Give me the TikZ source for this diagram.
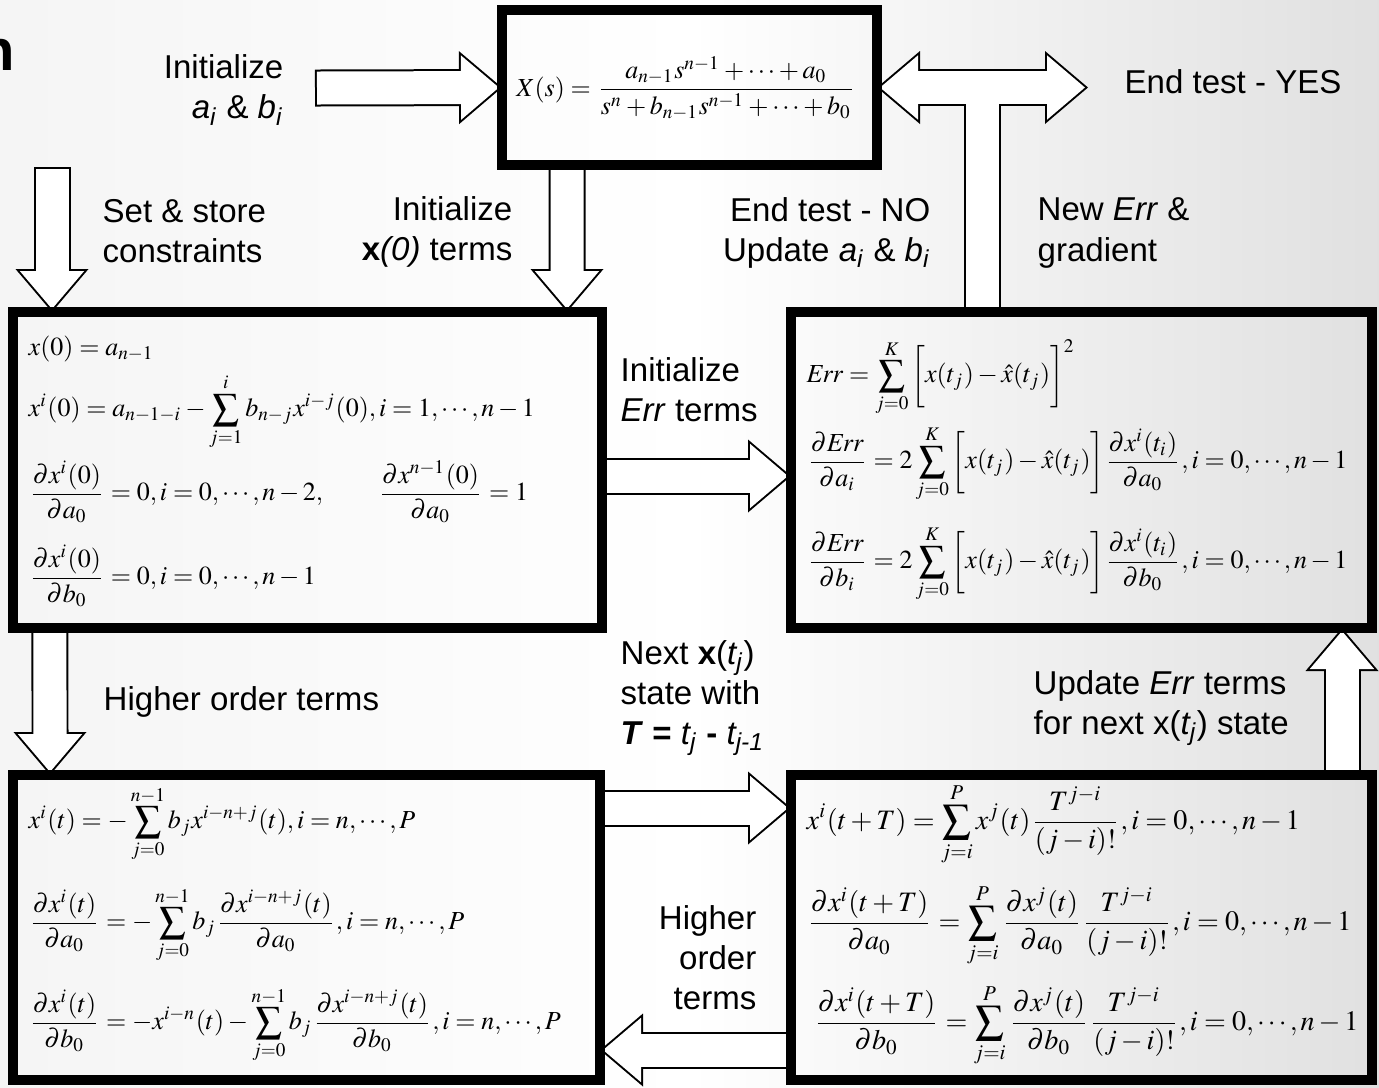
\documentclass[tikz,border=0pt]{standalone}
\usepackage{mathptmx}
\usepackage[no-math]{fontspec}
\newfontfamily\arialfont{Liberation Sans}
\usetikzlibrary{arrows.meta, calc}

\pgfdeclarelayer{back}
\pgfdeclarelayer{flow}
\pgfsetlayers{back,flow,main}

\tikzset{
    tipout/.tip={Triangle[length=0.43cm 0, width=0.73cm 0, line width=0pt 0]},
    tipin/.tip={Triangle[length=0.379cm 0, width=0.644cm 0, line width=0pt 0]}
}
\tikzstyle{box} = [
    rectangle,
    draw=black,
    line width=0.1cm,
    inner sep=0pt,
    outer sep=0pt
]
\tikzstyle{fatout} = [black, line width=0.37cm, -tipout]
\tikzstyle{fatin} = [white, line width=0.33cm, shorten <=0.02cm, shorten >=0.031cm, -tipin]
\tikzstyle{note} = [font=\arialfont\fontsize{9.4}{11.4}\selectfont, inner sep=0pt]
\tikzstyle{eqn} = [font=\fontsize{7.4}{9}\selectfont, inner sep=0pt, anchor=west]
\tikzstyle{eqnwide} = [font=\fontsize{8}{10}\selectfont, inner sep=0pt, anchor=west]

% hollow block arrow between two points
\newcommand{\fatarrow}[2]{%
    \draw[fatout] #1 -- #2;
    \draw[fatin] #1 -- #2;
}

\begin{document}
\begin{tikzpicture}
\useasboundingbox (0,0) rectangle (13.79,-10.87);
\begin{pgfonlayer}{back}
\shade[left color=black!4, right color=black!12, middle color=white] (0,0) rectangle (13.79,-10.87);
\end{pgfonlayer}

% cut title at the left edge
\node (title) [anchor=base east, inner sep=0pt, font=\arialfont\bfseries\fontsize{16.5}{18}\selectfont] at (0.16,-0.70) {n};

% boxes
\node (tf) [box, minimum width=3.75cm, minimum height=1.55cm] at (6.895,-0.875) {};
\node (init) [box, minimum width=5.89cm, minimum height=3.16cm] at (3.075,-4.70) {};
\node (err) [box, minimum width=5.81cm, minimum height=3.16cm] at (10.815,-4.70) {};
\node (hot) [box, minimum width=5.87cm, minimum height=3.05cm] at (3.065,-9.275) {};
\node (taylor) [box, minimum width=5.81cm, minimum height=3.05cm] at (10.815,-9.275) {};

% transfer function
\node (tfx) [eqn, anchor=center] at (6.86,-0.88)
{$\displaystyle X(s)=\frac{a_{n-1}s^{n-1}+\cdots+a_0}{s^n+b_{n-1}s^{n-1}+\cdots+b_0}$};

% initial values
\node (i1) [eqn] at (0.28,-3.49) {$x(0)=a_{n-1}$};
\node (i2) [eqn] at (0.28,-4.12)
{$\displaystyle x^i(0)=a_{n-1-i}-\sum_{j=1}^{i}b_{n-j}x^{i-j}(0),i=1,\cdots,n-1$};
\node (i3) [eqn] at (0.28,-4.92)
{$\displaystyle \frac{\partial x^i(0)}{\partial a_0}=0,i=0,\cdots,n-2,\qquad\frac{\partial x^{n-1}(0)}{\partial a_0}=1$};
\node (i4) [eqn] at (0.28,-5.76)
{$\displaystyle \frac{\partial x^i(0)}{\partial b_0}=0,i=0,\cdots,n-1$};

% error and gradient
\node (e1) [eqn] at (8.06,-3.78)
{$\displaystyle \mathit{Err}=\sum_{j=0}^{K}\bigg[x(t_j)-\hat{x}(t_j)\bigg]^2$};
\node (e2) [eqn] at (8.06,-4.64)
{$\displaystyle\frac{\partial \mathit{Err}}{\partial a_i}=2\sum_{j=0}^{K}\bigg[x(t_j)-\hat{x}(t_j)\bigg]\frac{\partial x^i(t_i)}{\partial a_0},i=0,\cdots,n-1$};
\node (e3) [eqn] at (8.06,-5.64)
{$\displaystyle\frac{\partial \mathit{Err}}{\partial b_i}=2\sum_{j=0}^{K}\bigg[x(t_j)-\hat{x}(t_j)\bigg]\frac{\partial x^i(t_i)}{\partial b_0},i=0,\cdots,n-1$};

% higher order terms
\node (h1) [eqn] at (0.28,-8.24)
{$\displaystyle x^i(t)=-\sum_{j=0}^{n-1}b_jx^{i-n+j}(t),i=n,\cdots,P$};
\node (h2) [eqn] at (0.28,-9.25)
{$\displaystyle\frac{\partial x^i(t)}{\partial a_0}=-\sum_{j=0}^{n-1}b_j\frac{\partial x^{i-n+j}(t)}{\partial a_0},i=n,\cdots,P$};
\node (h3) [eqn] at (0.28,-10.25)
{$\displaystyle\frac{\partial x^i(t)}{\partial b_0}=-x^{i-n}(t)-\sum_{j=0}^{n-1}b_j\frac{\partial x^{i-n+j}(t)}{\partial b_0},i=n,\cdots,P$};

% next state
\node (t1) [eqnwide] at (8.06,-8.24)
{$\displaystyle x^i(t+T)=\sum_{j=i}^{P}x^j(t)\frac{T^{j-i}}{(j-i)!},i=0,\cdots,n-1$};
\node (t2) [eqnwide] at (8.06,-9.25)
{$\displaystyle\frac{\partial x^i(t+T)}{\partial a_0}=\sum_{j=i}^{P}\frac{\partial x^j(t)}{\partial a_0}\frac{T^{j-i}}{(j-i)!},i=0,\cdots,n-1$};
\node (t3) [eqnwide] at (8.13,-10.25)
{$\displaystyle\frac{\partial x^i(t+T)}{\partial b_0}=\sum_{j=i}^{P}\frac{\partial x^j(t)}{\partial b_0}\frac{T^{j-i}}{(j-i)!},i=0,\cdots,n-1$};

% labels
\node (lai) [note, anchor=east, align=right] at (2.84,-0.90)
{Initialize\\\textit{a\textsubscript{i}} \& \textit{b\textsubscript{i}}};
\node (lset) [note, anchor=west, align=left] at (1.02,-2.31) {Set \& store\\constraints};
\node (lx0) [note, anchor=east, align=right] at (5.13,-2.32) {Initialize\\\textbf{x}\textit{(0)} terms};
\node (lno) [note, anchor=east, align=right] at (9.31,-2.33)
{End test - NO\\Update \textit{a\textsubscript{i}} \& \textit{b\textsubscript{i}}};
\node (lnew) [note, anchor=west, align=left] at (10.37,-2.33) {New \textit{Err} \&\\gradient};
\node (lyes) [note, anchor=west] at (11.24,-0.82) {End test - YES};
\node (lerr) [note, anchor=west, align=left] at (6.20,-3.90) {Initialize\\\textit{Err} terms};
\node (lhigh) [note, anchor=west] at (1.03,-7.02) {Higher order terms};
\node (lnext) [note, anchor=west, align=left] at (6.20,-6.98)
{Next \textbf{x}(\textit{t\textsubscript{j}})\\state with\\\textbf{\textit{T} =} \textit{t\textsubscript{j}} \textbf{-} \textit{t\textsubscript{j-1}}};
\node (lupd) [note, anchor=west, align=left] at (10.33,-7.08)
{Update \textit{Err} terms\\for next x(\textit{t\textsubscript{j}}) state};
\node (lho) [note, anchor=east, align=right] at (7.57,-9.58) {Higher\\order\\terms};

% free ends
\coordinate (aistart) at (3.15,-0.88);
\coordinate (setstart) at (0.52,-1.67);
\coordinate (yes) at (10.88,-0.875);
\coordinate (stem) at ($(err.north west)+(1.91,0)$);

\begin{pgfonlayer}{flow}
\fatarrow{(aistart)}{(tf.west)}
\fatarrow{(setstart)}{(setstart |- init.north)}
\fatarrow{($(tf.south west)+(0.65,0)$)}{($(init.north east)+(-0.35,0)$)}
\fatarrow{($(init.east)+(0,-0.06)$)}{($(err.west)+(0,-0.06)$)}
\fatarrow{($(init.south west)+(0.37,0)$)}{($(hot.north west)+(0.37,0)$)}
\fatarrow{($(hot.north east)+(0,-0.33)$)}{($(taylor.north west)+(0,-0.33)$)}
\fatarrow{($(taylor.south west)+(0,0.30)$)}{($(hot.south east)+(0,0.30)$)}
\fatarrow{($(taylor.north east)+(-0.30,0)$)}{($(err.south east)+(-0.30,0)$)}
% end test: both ways, fed from the error box
\draw[fatout, tipout-tipout] (tf.east) -- (yes);
\draw[fatout, -] (stem) -- (stem |- tf.east);
\draw[fatin, tipin-tipin, shorten <=0.031cm] (tf.east) -- (yes);
\draw[fatin, -] (stem) -- (stem |- tf.east);
\end{pgfonlayer}

\end{tikzpicture}
\end{document}
